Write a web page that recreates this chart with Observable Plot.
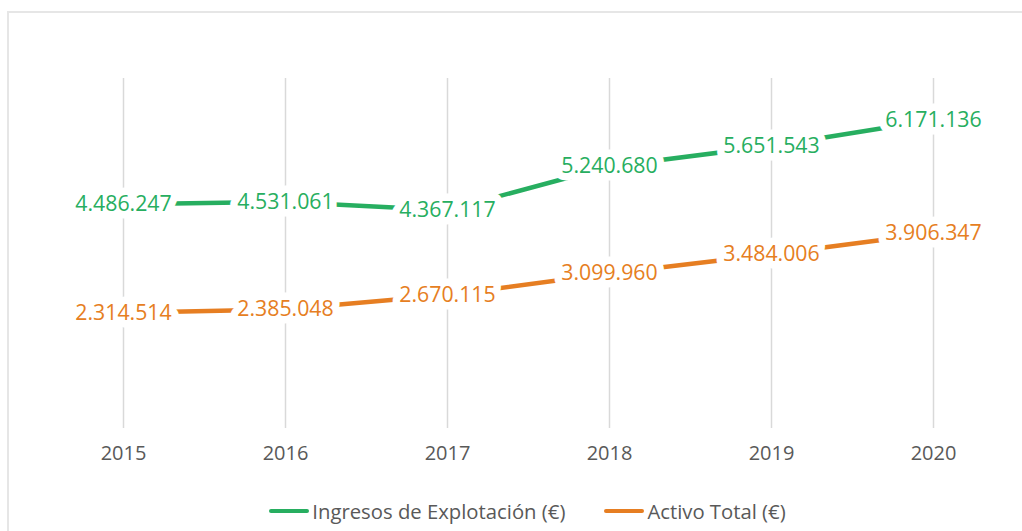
<!DOCTYPE html>
<html>
<head>
<meta charset="utf-8">
<script src="https://cdn.jsdelivr.net/npm/d3@7"></script>
<script src="https://cdn.jsdelivr.net/npm/@observablehq/plot@0.6"></script>
<style>
  html, body { margin: 0; padding: 0; background: #fff; }
  body { width: 1022px; height: 531px; position: relative; overflow: hidden; font-family: "Open Sans", sans-serif; }
  #frame { position: absolute; left: 7px; top: 11px; width: 1030px; height: 540px; border: 2px solid #e6e6e6; box-sizing: border-box; }
  #chart { position: absolute; left: 0; top: 0; }
  #legend { position: absolute; left: 41px; width: 973px; top: 497px; display: flex; justify-content: center; gap: 39px; color: #595959; font-size: 20.3px; }
  .item { display: flex; align-items: center; }
  .sw { width: 40px; height: 4px; border-radius: 2px; margin-right: 3px; }
</style>
</head>
<body>
<div id="frame"></div>
<div id="chart"></div>
<div id="legend"></div>
<script>
const years = ["2015", "2016", "2017", "2018", "2019", "2020"];
const ingresos = [4486247, 4531061, 4367117, 5240680, 5651543, 6171136];
const activo = [2314514, 2385048, 2670115, 3099960, 3484006, 3906347];
const seriesNames = ["Ingresos de Explotación (€)", "Activo Total (€)"];
const seriesColors = ["#27ae60", "#e67e22"];

const fmt = d3.formatLocale({decimal: ",", thousands: ".", grouping: [3], currency: ["", "€"]}).format(",d");

const data = [];
years.forEach((y, i) => data.push({year: y, value: ingresos[i], series: seriesNames[0]}));
years.forEach((y, i) => data.push({year: y, value: activo[i], series: seriesNames[1]}));

const plot = Plot.plot({
  width: 1022,
  height: 470,
  marginLeft: 41,
  marginRight: 8,
  marginTop: 78,
  marginBottom: 42,
  style: {fontFamily: "Open Sans, sans-serif", background: "transparent"},
  x: {type: "point", domain: years, padding: 0.5},
  y: {domain: [0, 7000000], axis: null},
  color: {domain: seriesNames, range: seriesColors},
  marks: [
    Plot.gridX(years, {stroke: "#d9d9d9", strokeOpacity: 1, strokeWidth: 1.5}),
    Plot.axisX({tickSize: 0, tickPadding: 17, fontSize: 20, color: "#595959", label: null}),
    Plot.line(data, {x: "year", y: "value", z: "series", stroke: "series", strokeWidth: 4.5, strokeLinecap: "butt"}),
    Plot.text(data, {x: "year", y: "value", text: d => fmt(d.value), fill: "series", stroke: "white", strokeWidth: 15, strokeLinejoin: "round", paintOrder: "stroke", fontSize: 21.3})
  ]
});
document.getElementById("chart").appendChild(plot);

const legend = document.getElementById("legend");
seriesNames.forEach((name, i) => {
  const item = document.createElement("div");
  item.className = "item";
  const sw = document.createElement("div");
  sw.className = "sw";
  sw.style.background = seriesColors[i];
  const label = document.createElement("span");
  label.textContent = name;
  item.appendChild(sw);
  item.appendChild(label);
  legend.appendChild(item);
});
</script>
</body>
</html>
